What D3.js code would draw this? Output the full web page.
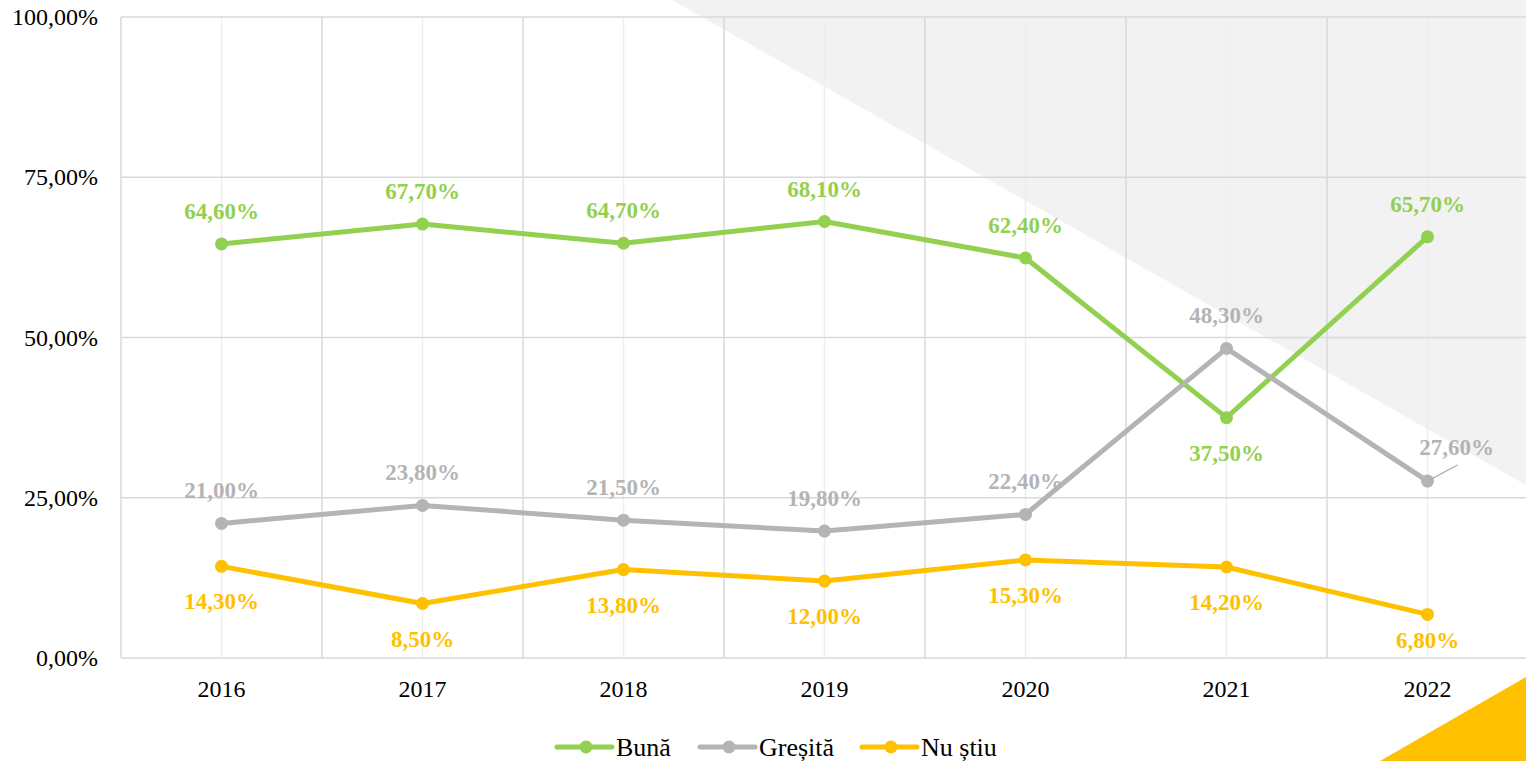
<!DOCTYPE html>
<html>
<head>
<meta charset="utf-8">
<script src="https://cdn.jsdelivr.net/npm/d3@7"></script>
<style>
  body { margin: 0; background: #fff; }
  svg { display: block; }
</style>
</head>
<body>
<div id="chart"></div>
<script>
const years = ["2016", "2017", "2018", "2019", "2020", "2021", "2022"]
const buna = [64.6, 67.7, 64.7, 68.1, 62.4, 37.5, 65.7]
const gresita = [21.0, 23.8, 21.5, 19.8, 22.4, 48.3, 27.6]
const nuStiu = [14.3, 8.5, 13.8, 12.0, 15.3, 14.2, 6.8]
const yTicks = [0, 25, 50, 75, 100]
const seriesNames = ["Bună", "Greșită", "Nu știu"]

const W = 1526, H = 761
const margin = { top: 17, right: -2, bottom: 103, left: 121 }
const font = "'Liberation Serif', 'DejaVu Serif', serif"

const svg = d3.select("#chart").append("svg")
  .attr("width", W).attr("height", H)

// background shapes
svg.append("polygon")
  .attr("points", "672,0 1526,0 1526,485")
  .attr("fill", "#f2f2f2")
svg.append("polygon")
  .attr("points", "1380,761 1526,677 1526,761")
  .attr("fill", "#ffc000")

const x = d3.scaleBand()
  .domain(years)
  .range([margin.left, W - margin.right])
const y = d3.scaleLinear()
  .domain([0, 100])
  .range([H - margin.bottom, margin.top])

const fmt = v => d3.format(".2f")(v).replace(".", ",") + "%"

// grid: minor at band centres, major at band edges
const g = svg.append("g")
g.selectAll(".minor")
  .data(years)
  .join("line")
  .attr("x1", d => x(d) + x.bandwidth() / 2)
  .attr("x2", d => x(d) + x.bandwidth() / 2)
  .attr("y1", y(100)).attr("y2", y(0))
  .attr("stroke", "#eeeeee").attr("stroke-width", 1.5)
g.selectAll(".major")
  .data(years.concat(["end"]))
  .join("line")
  .attr("x1", (d, i) => margin.left + i * x.bandwidth())
  .attr("x2", (d, i) => margin.left + i * x.bandwidth())
  .attr("y1", y(100)).attr("y2", y(0))
  .attr("stroke", "#d9d9d9").attr("stroke-width", 1.5)
g.selectAll(".hgrid")
  .data(yTicks)
  .join("line")
  .attr("x1", margin.left).attr("x2", W)
  .attr("y1", d => y(d)).attr("y2", d => y(d))
  .attr("stroke", "#d9d9d9").attr("stroke-width", 1.5)

// axes
const yAxis = svg.append("g")
  .attr("transform", `translate(${margin.left - 23},0)`)
  .call(d3.axisLeft(y).tickValues(yTicks).tickFormat(fmt).tickSize(0).tickPadding(0))
yAxis.select(".domain").remove()
yAxis.selectAll("text")
  .style("font-family", font).style("font-size", "24px").attr("fill", "#000")

const xAxis = svg.append("g")
  .attr("transform", `translate(0,${y(0) + 22})`)
  .call(d3.axisBottom(x).tickSize(0).tickPadding(0))
xAxis.select(".domain").remove()
xAxis.selectAll("text")
  .style("font-family", font).style("font-size", "24px").attr("fill", "#000")

// series
const series = [
  { name: seriesNames[0], values: buna, color: "#92d050", pos: ["a", "a", "a", "a", "a", "b", "a"] },
  { name: seriesNames[1], values: gresita, color: "#b4b4b4", pos: ["a", "a", "a", "a", "a", "a", "r"] },
  { name: seriesNames[2], values: nuStiu, color: "#ffc000", pos: ["b", "b", "b", "b", "b", "b", "b"] },
]

const cx = d => x(d) + x.bandwidth() / 2
const line = d3.line()
  .x(d => cx(d.year))
  .y(d => y(d.value))

// label y: above / below / right-offset, kept inside plot bottom
const labelY = d => {
  const py = y(d.value)
  if (d.pos === "b") return Math.min(py + 35, y(0) - 18)
  if (d.pos === "r") return py - 34
  return py - 33
}

series.forEach(s => {
  const pts = years.map((yr, i) => ({ year: yr, value: s.values[i], pos: s.pos[i] }))
  svg.append("path")
    .datum(pts)
    .attr("d", line)
    .attr("fill", "none")
    .attr("stroke", s.color)
    .attr("stroke-width", 5)
    .attr("stroke-linejoin", "round")
  svg.selectAll(null)
    .data(pts)
    .join("circle")
    .attr("cx", d => cx(d.year))
    .attr("cy", d => y(d.value))
    .attr("r", 6.5)
    .attr("fill", s.color)

  // leader lines for offset labels
  svg.selectAll(null)
    .data(pts.filter(d => d.pos === "r"))
    .join("line")
    .attr("x1", d => cx(d.year) + 2).attr("y1", d => y(d.value) - 1)
    .attr("x2", d => cx(d.year) + 30).attr("y2", d => y(d.value) - 16)
    .attr("stroke", "#a6a6a6").attr("stroke-width", 1.2)

  svg.selectAll(null)
    .data(pts)
    .join("text")
    .attr("x", d => cx(d.year) + (d.pos === "r" ? 29 : 0))
    .attr("y", labelY)
    .attr("dy", "0.35em")
    .attr("text-anchor", "middle")
    .style("font-family", font)
    .style("font-size", "23px")
    .style("font-weight", "bold")
    .attr("fill", s.color)
    .text(d => fmt(d.value))
})

// legend
const legendX = [557, 700, 862]
const legend = svg.append("g")
series.forEach((s, i) => {
  const lg = legend.append("g").attr("transform", `translate(${legendX[i]},747)`)
  lg.append("line")
    .attr("x1", 0).attr("x2", 55).attr("y1", 0).attr("y2", 0)
    .attr("stroke", s.color).attr("stroke-width", 5).attr("stroke-linecap", "round")
  lg.append("circle").attr("cx", 29).attr("cy", 0).attr("r", 6.5).attr("fill", s.color)
  lg.append("text")
    .attr("x", 59).attr("y", 0).attr("dy", "0.35em")
    .style("font-family", font).style("font-size", "26px")
    .attr("fill", "#000")
    .text(s.name)
})
</script>
</body>
</html>
